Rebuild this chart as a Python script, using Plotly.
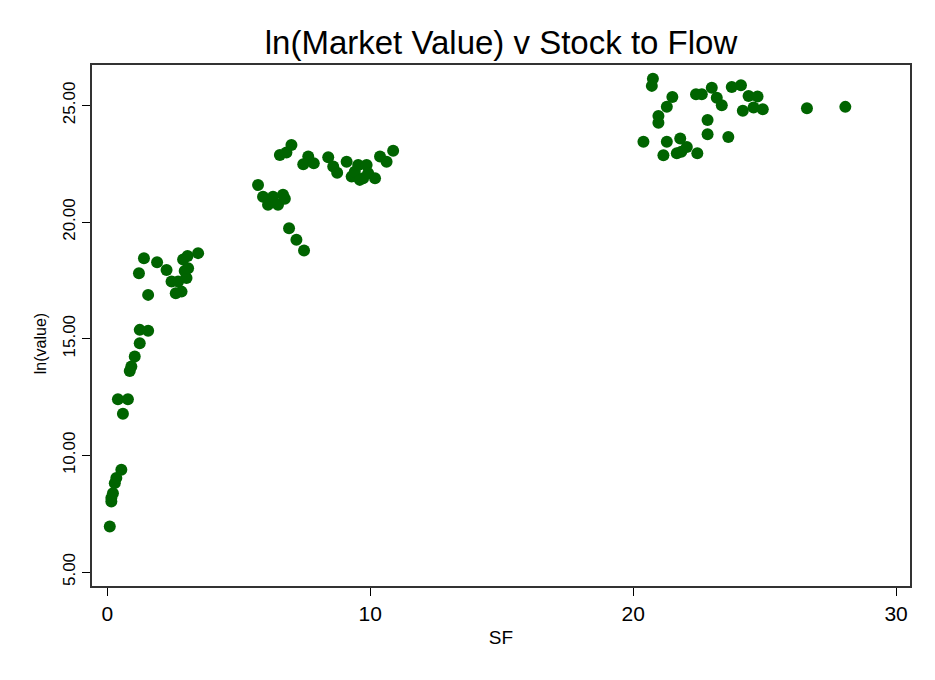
import plotly.graph_objects as go

# stock-to-flow ratio (x) and log market value (y)
sf = [
    0.09, 0.15, 0.15, 0.21, 0.28, 0.34, 0.53, 0.40, 0.78, 0.59,
    0.85, 0.91, 1.04, 1.23, 1.23, 1.55, 1.20, 1.39, 1.55, 1.89,
    2.25, 2.44, 2.69, 2.60, 2.82, 2.88, 3.05, 3.45, 3.01, 2.94,
    3.07,
    5.73, 5.92, 6.11, 6.30, 6.49, 6.68, 6.75, 6.91, 7.19, 7.48,
    6.56, 6.81, 7.00, 7.64, 7.45, 7.85, 8.40, 8.59, 8.74, 9.10,
    9.29, 9.41, 9.54, 9.86, 9.73, 9.92, 9.60, 10.18, 10.37, 10.62,
    10.87,
    20.39, 20.71, 20.75, 20.96, 20.96, 21.15, 21.28, 21.28, 21.49, 21.66,
    21.79, 21.83, 22.04, 22.39, 22.44, 22.61, 22.83, 22.83, 22.99, 23.18,
    23.37, 23.62, 23.75, 24.10, 24.17, 24.39, 24.58, 24.73, 24.93, 26.61,
    28.07,
]
ln_value = [
    6.95, 8.02, 8.17, 8.38, 8.81, 9.03, 9.38, 12.41, 12.41, 11.78,
    13.62, 13.81, 14.24, 14.81, 15.38, 15.34, 17.81, 18.45, 16.88, 18.28,
    17.95, 17.45, 17.45, 16.95, 17.02, 18.40, 18.55, 18.67, 17.60, 17.90,
    18.02,
    21.59, 21.09, 20.74, 21.09, 20.74, 21.17, 21.00, 19.74, 19.24, 18.78,
    22.88, 22.98, 23.31, 22.81, 22.48, 22.52, 22.78, 22.38, 22.12, 22.59,
    21.95, 22.16, 22.45, 22.45, 21.88, 22.10, 21.81, 21.88, 22.81, 22.59,
    23.06,
    23.44, 25.84, 26.15, 24.55, 24.26, 22.87, 24.95, 23.44, 25.36, 22.95,
    23.58, 23.02, 23.22, 25.48, 22.95, 25.48, 24.38, 23.77, 25.76, 25.33,
    25.01, 23.65, 25.79, 25.87, 24.77, 25.41, 24.91, 25.38, 24.84, 24.88,
    24.94,
]

x_ticks = [0, 10, 20, 30]
y_ticks = [5, 10, 15, 20, 25]

font_family = "Helvetica, Liberation Sans, Arial, sans-serif"

fig = go.Figure()
fig.add_trace(
    go.Scatter(
        x=sf,
        y=ln_value,
        mode="markers",
        marker=dict(color="#006400", size=12, line=dict(width=0)),
        showlegend=False,
    )
)

# page body adds an 8px offset, so margins are trimmed to match
fig.update_layout(
    width=935,
    height=680,
    margin=dict(l=84, r=33, t=57, b=102),
    paper_bgcolor="white",
    plot_bgcolor="white",
    font=dict(family=font_family, color="black"),
    title=dict(
        text="ln(Market Value) v Stock to Flow",
        x=0.5,
        xref="paper",
        xanchor="center",
        y=0.95,
        yanchor="middle",
        font=dict(size=33, color="black"),
    ),
)

# y title sits a bit below the plot centre, like the original
fig.add_annotation(
    text="ln(value)",
    textangle=-90,
    xref="paper",
    yref="paper",
    x=-0.0636,
    y=0.466,
    xanchor="center",
    yanchor="middle",
    showarrow=False,
    font=dict(size=16),
)

fig.update_xaxes(
    range=[-0.586, 30.53],
    tickvals=x_ticks,
    ticks="outside",
    ticklen=8,
    tickcolor="black",
    tickfont=dict(size=21),
    showgrid=False,
    zeroline=False,
    showline=True,
    mirror=True,
    linecolor="#333333",
    linewidth=1.5,
    title=dict(text="SF", font=dict(size=19), standoff=7),
)
fig.update_yaxes(
    range=[4.40, 26.735],
    tickvals=y_ticks,
    tickformat=".2f",
    tickangle=-90,
    ticks="outside",
    ticklen=8,
    tickcolor="black",
    tickfont=dict(size=17),
    showgrid=False,
    zeroline=False,
    showline=True,
    mirror=True,
    linecolor="#333333",
    linewidth=1.5,
)

fig.write_html("out.html")
